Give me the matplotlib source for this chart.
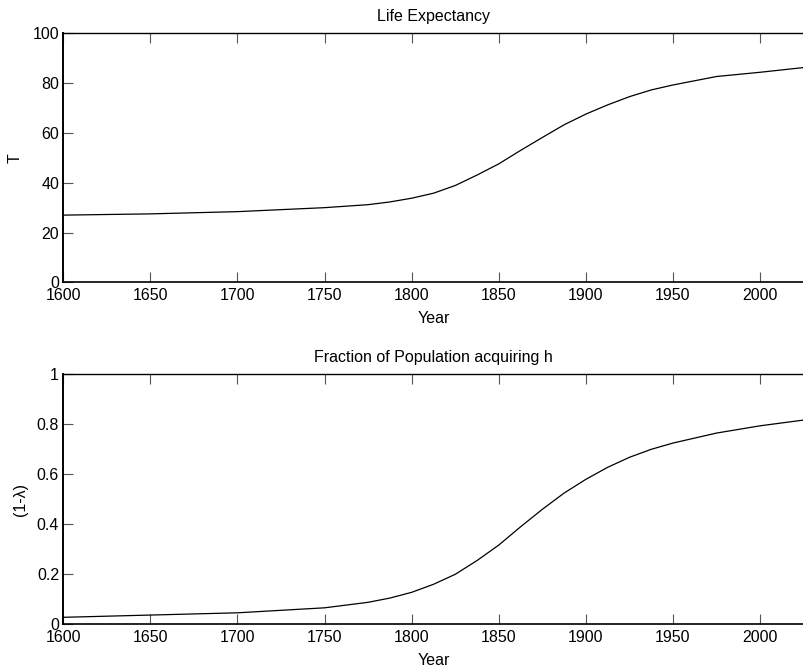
import matplotlib
matplotlib.use("Agg")
from matplotlib import pyplot as plt

plt.rcParams['font.family'] = ['Liberation Sans', 'DejaVu Sans']
plt.rcParams['font.size'] = 11.5

# values
years = [1600, 1650, 1700, 1750, 1775, 1787.5, 1800, 1812.5, 1825, 1837.5,
         1850, 1862.5, 1875, 1887.5, 1900, 1912.5, 1925, 1937.5, 1950,
         1975, 2000, 2025]
life_expectancy = [27.0, 27.5, 28.4, 30.0, 31.2, 32.3, 33.8, 35.8, 38.9, 43.1,
                   47.6, 53.0, 58.2, 63.3, 67.6, 71.3, 74.6, 77.3, 79.3,
                   82.7, 84.4, 86.3]
fraction_h = [0.028, 0.037, 0.046, 0.066, 0.088, 0.105, 0.128, 0.16, 0.20, 0.255,
              0.317, 0.39, 0.46, 0.525, 0.58, 0.628, 0.668, 0.70, 0.725,
              0.765, 0.794, 0.817]
xticks = [1600, 1650, 1700, 1750, 1800, 1850, 1900, 1950, 2000]

fig = plt.figure(figsize=(8.04, 6.69), dpi=100)
ax1 = fig.add_axes([0.0787, 0.578, 0.9213, 0.372])
ax2 = fig.add_axes([0.0787, 0.0668, 0.9213, 0.3737])


def style_axes(ax, ylim, yticks, yticklabels):
    ax.set_xlim(1600, 2025.2)
    ax.set_ylim(*ylim)
    ax.set_xticks(xticks)
    ax.set_yticks(yticks)
    ax.set_yticklabels(yticklabels)
    ax.tick_params(direction="in", length=7, width=0.8, top=True, right=False,
                   labelsize=11.5, pad=3, color="#555555")
    ax.tick_params(axis="x", pad=4)
    ax.spines["right"].set_visible(False)
    ax.spines["left"].set_linewidth(1.4)
    ax.spines["bottom"].set_linewidth(1.2)
    ax.spines["top"].set_linewidth(1.0)
    ax.set_xlabel("Year", labelpad=6)


ax1.plot(years, life_expectancy, color="black", linewidth=0.9)
style_axes(ax1, (0, 100), [0, 20, 40, 60, 80, 100],
           ["0", "20", "40", "60", "80", "100"])
ax1.set_ylabel("T")
ax1.yaxis.set_label_coords(-0.055, 0.5)
ax1.set_title("Life Expectancy", fontsize=11.5, pad=9)

ax2.plot(years, fraction_h, color="black", linewidth=0.9)
style_axes(ax2, (0, 1), [0, 0.2, 0.4, 0.6, 0.8, 1],
           ["0", "0.2", "0.4", "0.6", "0.8", "1"])
ax2.set_ylabel("(1-\u03bb)")
ax2.yaxis.set_label_coords(-0.047, 0.5)
ax2.set_title("Fraction of Population acquiring h", fontsize=11.5, pad=8.5)

fig.savefig("out.png", dpi=100)
